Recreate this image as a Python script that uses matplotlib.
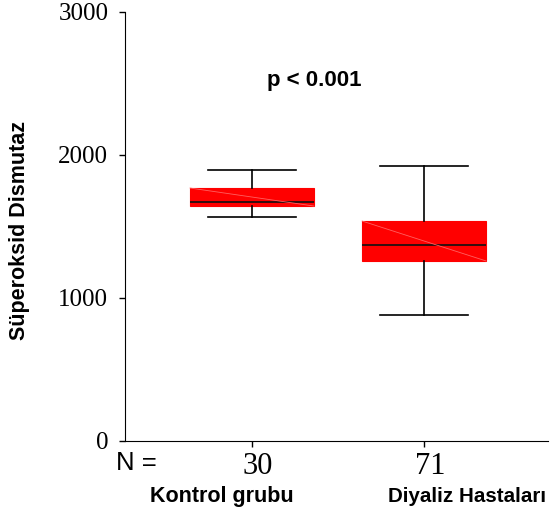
import matplotlib
matplotlib.use("Agg")
import matplotlib.pyplot as plt
import matplotlib.transforms as mtransforms

groups = ["Kontrol grubu", "Diyaliz Hastaları"]
n_values = ["30", "71"]
whisker_low = [1566, 881]
q1 = [1643, 1259]
median = [1671, 1371]
q3 = [1769, 1538]
whisker_high = [1895, 1923]
yticks = [0, 1000, 2000, 3000]

fig = plt.figure(figsize=(5.52, 5.15), dpi=100)
ax = fig.add_axes([0.2264, 0.1437, 0.7664, 0.833])

stats = []
for i, g in enumerate(groups):
    stats.append(dict(label=g, whislo=whisker_low[i], q1=q1[i], med=median[i],
                      q3=q3[i], whishi=whisker_high[i], fliers=[]))
positions = [1, 2]
ax.bxp(stats, positions=positions, widths=0.72, patch_artist=True,
       showfliers=False,
       boxprops=dict(facecolor="#ff0000", edgecolor="#ff0000", linewidth=0.8),
       medianprops=dict(color="#111111", linewidth=1.2),
       whiskerprops=dict(color="black", linewidth=1.2),
       capprops=dict(color="black", linewidth=1.2),
       capwidths=0.51)
for i, p in enumerate(positions):
    ax.plot([p - 0.36, p + 0.36], [q3[i], q1[i]], color="#ff6060", lw=0.6, zorder=3)

ax.set_xlim(0.262, 2.72)
ax.set_ylim(0, 3000)
ax.spines["top"].set_visible(False)
ax.spines["right"].set_visible(False)
ax.set_yticks(yticks)
ax.set_yticklabels([str(v) for v in yticks], fontfamily="Liberation Serif", fontsize=18)
ax.set_xticks(positions)
ax.set_xticklabels(n_values, fontfamily="Liberation Serif", fontsize=22)
ax.tick_params(axis="both", direction="out", length=4, width=1)
ax.tick_params(axis="y", pad=8)
ax.tick_params(axis="x", pad=4)
offset = mtransforms.ScaledTranslation(6 / 100, 0, fig.dpi_scale_trans)
for lbl in ax.get_xticklabels():
    lbl.set_transform(lbl.get_transform() + offset)

fig.text(20 / 552, 1 - 231 / 515, "Süperoksid Dismutaz", fontfamily="Liberation Sans",
         fontweight="bold", fontsize=15.5, rotation=90, ha="center", va="center")

fig.text(116 / 552, 1 - 470 / 515, "N =", fontfamily="Liberation Sans", fontsize=18.5,
         ha="left", va="baseline")
label_x = [150 / 552, 388 / 552]
label_size = [15.5, 14.8]
for i, g in enumerate(groups):
    fig.text(label_x[i], 1 - 502 / 515, g, fontfamily="Liberation Sans",
             fontweight="bold", fontsize=label_size[i], ha="left", va="baseline")

ax.text(1.36, 2520, "p < 0.001", fontfamily="Liberation Sans", fontweight="bold",
        fontsize=16, ha="center", va="center")

fig.savefig("out.png", dpi=100)
